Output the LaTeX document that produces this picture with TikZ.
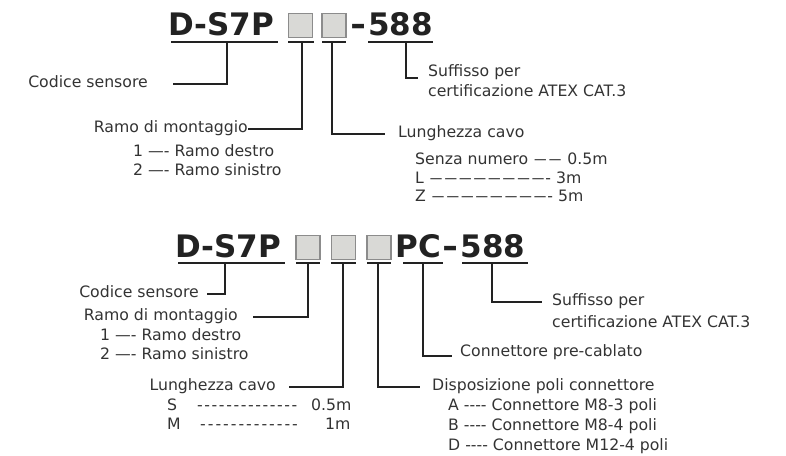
\documentclass[tikz,border=0pt]{standalone}
\usepackage{fontspec}
\setmainfont{DejaVu Sans}[Ligatures=TeXOff]
\usetikzlibrary{calc}
\definecolor{txt}{HTML}{333333}
\definecolor{ln}{HTML}{222222}
\definecolor{boxfill}{HTML}{D9D9D6}
\definecolor{boxline}{HTML}{8C8C8C}
\newcommand\emd{\kern1pt\scalebox{0.8}[1]{—}\kern1pt}
\newcommand\hh{-\kern1.6pt}
\newcommand\hm{-\kern2pt}
\newcommand\bhy{\scalebox{1.25}[1]{-}\kern2pt}
\begin{document}
\begin{tikzpicture}[x=1pt,y=-1pt,
  lbl/.style={anchor=west,inner sep=0pt,text=txt,font=\fontsize{15.7}{18}\selectfont,text height=11pt,text depth=3.5pt},
  lbll/.style={lbl,anchor=east},
  code/.style={anchor=base west,inner sep=0pt,text=ln,font=\bfseries\fontsize{31}{31}\selectfont},
  cbox/.style={draw=boxline,fill=boxfill,line width=1.1pt,minimum size=24pt,inner sep=0pt},
  uline/.style={draw=ln,line width=2pt},
  conn/.style={draw=ln,line width=1.8pt},
]
\useasboundingbox (0,0) rectangle (786,455);

% ---------- top code ----------
\node[code] (c1) at (168,35) {D-S7P};
\node[cbox] (b1) at (300.5,25.5) {};
\node[cbox] (b2) at (334,25.5) {};
\node[code] (s1) at (350,35) {\bhy 588};
\draw[uline] (171,42) -- (278,42);
\draw[uline] (288,42) -- (314,42);
\draw[uline] (322,42) -- (346,42);
\draw[uline] (368,42) -- (433,42);

\coordinate (t1) at (227,42);
\coordinate (t2) at (302,42);
\coordinate (t3) at (332,42);
\coordinate (t4) at (406,42);

\node[lbll] (cod1) at (148,84) {Codice sensore};
\node[lbll] (ramo1) at (248,129) {Ramo di montaggio};
\node[lbl] (r1a) at (133,153) {1 —- Ramo destro};
\node[lbl] (r1b) at (133,172) {2 —- Ramo sinistro};
\node[lbl] (lung1) at (398,134) {Lunghezza cavo};
\node[lbl] (sz) at (415,161) {Senza numero \emd\emd\ 0.5m};
\node[lbl] (lL) at (415,180) {L \emd\emd\emd\emd\emd\emd\emd\emd- 3m};
\node[lbl] (lZ) at (415,198) {Z \emd\emd\emd\emd\emd\emd\emd\emd- 5m};
\node[lbl] (suff1) at (428,73) {Suffisso per};
\node[lbl] (cert1) at (428,93) {certificazione ATEX CAT.3};

\draw[conn] (t1) |- ([xshift=25pt]cod1.east);
\draw[conn] (t2) |- (ramo1.east);
\draw[conn] (t3) |- ([xshift=-13pt]lung1.west);
\draw[conn] (t4) |- ([xshift=-10pt,yshift=-5pt]suff1.west);

% ---------- bottom code ----------
\node[code] (c2) at (175,257) {D-S7P};
\node[cbox] (b3) at (308,247.5) {};
\node[cbox] (b4) at (343.5,247.5) {};
\node[cbox] (b5) at (379,247.5) {};
\node[code] (s2) at (395,257) {P\kern1pt C\kern1pt\bhy 588};
\draw[uline] (178,263) -- (285,263);
\draw[uline] (296,263) -- (320,263);
\draw[uline] (331,263) -- (356,263);
\draw[uline] (367,263) -- (391,263);
\draw[uline] (403,263) -- (443,263);
\draw[uline] (462,263) -- (528,263);

\coordinate (u1) at (225,263);
\coordinate (u2) at (308,263);
\coordinate (u3) at (343,263);
\coordinate (u4) at (378,263);
\coordinate (u5) at (423,263);
\coordinate (u6) at (492,263);

\node[lbll] (cod2) at (199,294) {Codice sensore};
\node[lbll] (ramo2) at (238,317) {Ramo di montaggio};
\node[lbl] (r2a) at (100,337) {1 —- Ramo destro};
\node[lbl] (r2b) at (100,356) {2 —- Ramo sinistro};
\node[lbll] (lung2) at (276,387) {Lunghezza cavo};
\node[lbl] (rS) at (167,407) {\makebox[30pt][l]{S}\makebox[114pt][l]{\hh\hh\hh\hh\hh\hh\hh\hh\hh\hh\hh\hh\hh\hh}0.5m};
\node[lbl] (rM) at (167,426) {\makebox[33pt][l]{M}\makebox[125pt][l]{\hm\hm\hm\hm\hm\hm\hm\hm\hm\hm\hm\hm\hm}1m};
\node[lbl] (disp) at (432,387) {Disposizione poli connettore};
\node[lbl] (pA) at (448,407) {A ---- Connettore M8-3 poli};
\node[lbl] (pB) at (448,427) {B ---- Connettore M8-4 poli};
\node[lbl] (pD) at (448,447) {D ---- Connettore M12-4 poli};
\node[lbl] (pc) at (460,353) {Connettore pre-cablato};
\node[lbl] (suff2) at (552,302) {Suffisso per};
\node[lbl] (cert2) at (552,324) {certificazione ATEX CAT.3};

\draw[conn] (u1) |- ([xshift=8pt]cod2.east);
\draw[conn] (u2) |- ([xshift=15pt]ramo2.east);
\draw[conn] (u3) |- ([xshift=13pt]lung2.east);
\draw[conn] (u4) |- ([xshift=-12pt]disp.west);
\draw[conn] (u5) |- ([xshift=-8pt,yshift=-3pt]pc.west);
\draw[conn] (u6) |- ([xshift=-10pt]suff2.west);
\end{tikzpicture}
\end{document}
